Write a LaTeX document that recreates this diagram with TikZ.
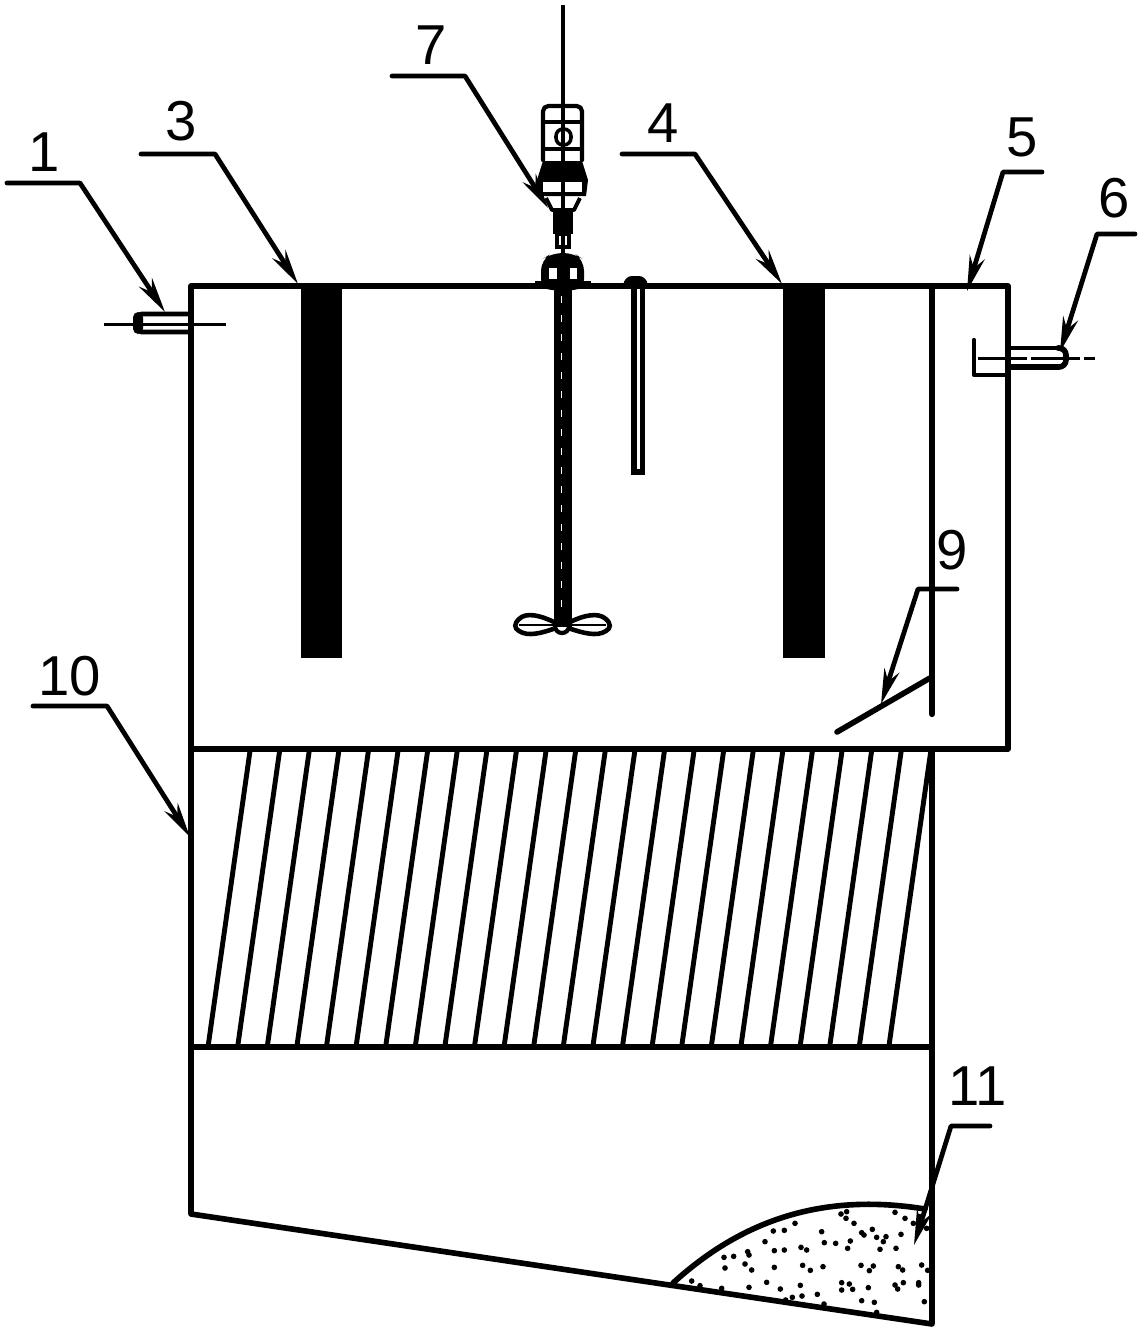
\documentclass[tikz,border=0pt]{standalone}
\usepackage{fontspec}
\setmainfont{Liberation Sans}
\usetikzlibrary{arrows.meta}
\tikzset{
  >={Stealth[length=10pt,width=4.4pt]},
  wall/.style={line width=1.6pt,line cap=round,line join=round},
  thinline/.style={line width=0.85pt},
  leader/.style={line width=1.35pt,line join=round,line cap=round,->},
  hatchline/.style={line width=1.4pt},
  partlabel/.style={inner sep=0pt,font=\fontsize{16}{16}\selectfont},
}
\begin{document}
\begin{tikzpicture}[x=0.01cm,y=-0.01cm]
  \useasboundingbox (0,0) rectangle (1141,1333);

  % tank
  \draw[wall] (191,749) -- (191,286) -- (1008,286) -- (1008,749) -- cycle;
  \draw[wall] (191,749) -- (191,1214) -- (932,1324) -- (932,749);
  \draw[wall] (191,1047) -- (932,1047);
  \draw[wall,line width=1.8pt] (932,286) -- (932,714);
  \draw[wall] (837,732) -- (930,678);

  % electrodes
  \fill (301,286) rectangle (342,658);
  \fill (783,286) rectangle (825,658);

  % packing
  \foreach \i in {0,...,23}
    \draw[hatchline] ({250+29.6*\i},751) -- ({208+29.6*\i},1047);

  % inlet and outlet
  \draw[wall,line width=1.3pt,rounded corners=1.5pt] (191,314) -- (136,314) -- (136,332) -- (191,332);
  \fill[rounded corners=1.5pt] (133,312) rectangle (143,334);
  \draw[thinline] (104,324) -- (226,324);
  \draw[wall,line width=1.1pt] (1008,348) -- (1062,348);
  \draw[wall,rounded corners=2pt] (1008,367) -- (1066,367) -- (1066,348) -- (1058,348);
  \draw[thinline,dash pattern=on 14pt off 1pt] (978,358) -- (1095,358);
  \draw[wall,line width=1.2pt] (974,340) -- (974,375) -- (1008,375);

  % thermometer
  \draw[line width=1.6pt] (634,282) -- (634,472) -- (642.500,472) -- (642.500,282);
  \fill[rounded corners=2pt] (623,288) -- (625,276) -- (646,276) -- (648,288) -- cycle;

  % motor
  \draw[line width=1pt] (563,5) -- (563,255);
  \draw[wall,line width=1.2pt,rounded corners=1.5pt] (543,160) -- (543,106) -- (582,106) -- (582,160);
  \draw[line width=0.9pt] (543,122) -- (582,122);
  \draw[line width=1pt,rounded corners=2pt] (556,129) rectangle (571,145);
  \draw[line width=1pt] (563,129) -- (563,145);
  \draw[line width=0.9pt] (543,149) -- (582,149);
  \fill (543,161) -- (582,161) -- (588,180) -- (586,196) -- (539,196) -- (537,180) -- cycle;
  \fill[white] (543,182) rectangle (561,192);
  \fill[white] (565,182) rectangle (582,192);
  \draw[line width=1.1pt,line join=round] (546,198) -- (552,210) -- (574,210) -- (580,198);
  \draw[line width=0.9pt] (563,198) -- (563,210);
  \fill (553,210) rectangle (573,234);
  \draw[line width=1.2pt] (557,234) rectangle (569,247);
  \draw[line width=0.7pt] (563,234) -- (563,247);
  \fill[rounded corners=3pt] (541,290) -- (541,260) -- (552,253) -- (574,253) -- (584,260) -- (584,290) -- cycle;
  \fill (535,281) rectangle (591,288);
  \fill[white] (549,268) rectangle (557,279);
  \fill[white] (570,268) rectangle (577,279);

  % stirrer
  \fill (554,288) rectangle (572,627);
  \draw[white,line width=0.25pt,dash pattern=on 2pt off 3.400pt] (561,296) -- (561,615);
  \draw[line width=1.3pt] (556,623) .. controls (540,615) and (526,612) .. (519,619)
    .. controls (514,624) and (514,628) .. (519,631)
    .. controls (528,637) and (542,633) .. (556,628);
  \draw[line width=1.3pt] (568,623) .. controls (584,615) and (598,612) .. (606,619)
    .. controls (611,624) and (611,628) .. (606,631)
    .. controls (597,637) and (583,633) .. (568,628);
  \draw[line width=0.8pt] (519,625) -- (606,625);
  \draw[line width=1.2pt] (562,626) circle (2pt);

  % sludge
  \draw[wall] (673,1283) .. controls (740,1222) and (820,1192) .. (925,1209);
  \foreach \x/\y in {603/282,620/275,618/295,642/310,765/277,795/295,820/310,840/290,860/325,
    465/310,433/331,400/333,545/335,697/328,665/338,672/345,710/352,738/350,730/365,783/343,
    375/365,553/368,587/370,631/363,623/385,720/388,768/385,403/392,433/390,323/395,327/405,
    483/382,500/390,252/412,281/409,255/444,315/432,335/450,403/442,488/436,511/451,549/440,
    663/436,700/438,688/452,775/440,788/450,845/435,863/451,380/487,327/502,421/507,481/496,
    605/488,628/492,605/510,638/508,685/503,765/495,773/507,790/488,836/488,836/495,457/532,
    486/528,532/523,437/540,665/542,703/547,853/545,155/483,180/497,245/505,552/552,710/577}
    \fill ({640+\x/3},{1120+\y/3}) circle (0.8pt);

  % labels
  \node[partlabel] (lab1)  at (44,152)   {1};
  \node[partlabel] (lab3)  at (181,121)  {3};
  \node[partlabel] (lab7)  at (431,45)   {7};
  \node[partlabel] (lab4)  at (663,123)  {4};
  \node[partlabel] (lab5)  at (1022,137) {5};
  \node[partlabel] (lab6)  at (1114,198) {6};
  \node[partlabel] (lab9)  at (952,550)  {9};
  \node[partlabel] (lab10) at (70,676)   {10};
  \node[partlabel] (lab11) at (978,1086) {11};

  % leaders
  \coordinate (s1)  at (7,183);     \coordinate (k1)  at (80,183);    \coordinate (t1)  at (165,312);
  \coordinate (s3)  at (141,154);   \coordinate (k3)  at (215,154);   \coordinate (t3)  at (298,284);
  \coordinate (s7)  at (392,76);    \coordinate (k7)  at (465,76);    \coordinate (t7)  at (548,208);
  \coordinate (s4)  at (622,154);   \coordinate (k4)  at (695,154);   \coordinate (t4)  at (782,284);
  \coordinate (s5)  at (1042,172);  \coordinate (k5)  at (1003,172);  \coordinate (t5)  at (967,291);
  \coordinate (s6)  at (1135,234);  \coordinate (k6)  at (1097,234);  \coordinate (t6)  at (1060,352);
  \coordinate (s9)  at (957,589);   \coordinate (k9)  at (918,589);   \coordinate (t9)  at (881,704);
  \coordinate (s10) at (33,706);    \coordinate (k10) at (107,706);   \coordinate (t10) at (190,837);
  \coordinate (s11) at (990,1126);  \coordinate (k11) at (951,1126);  \coordinate (t11) at (914,1245);
  \foreach \n in {1,3,7,4,5,6,9,10,11}
    \draw[leader] (s\n) -- (k\n) -- (t\n);
\end{tikzpicture}
\end{document}
